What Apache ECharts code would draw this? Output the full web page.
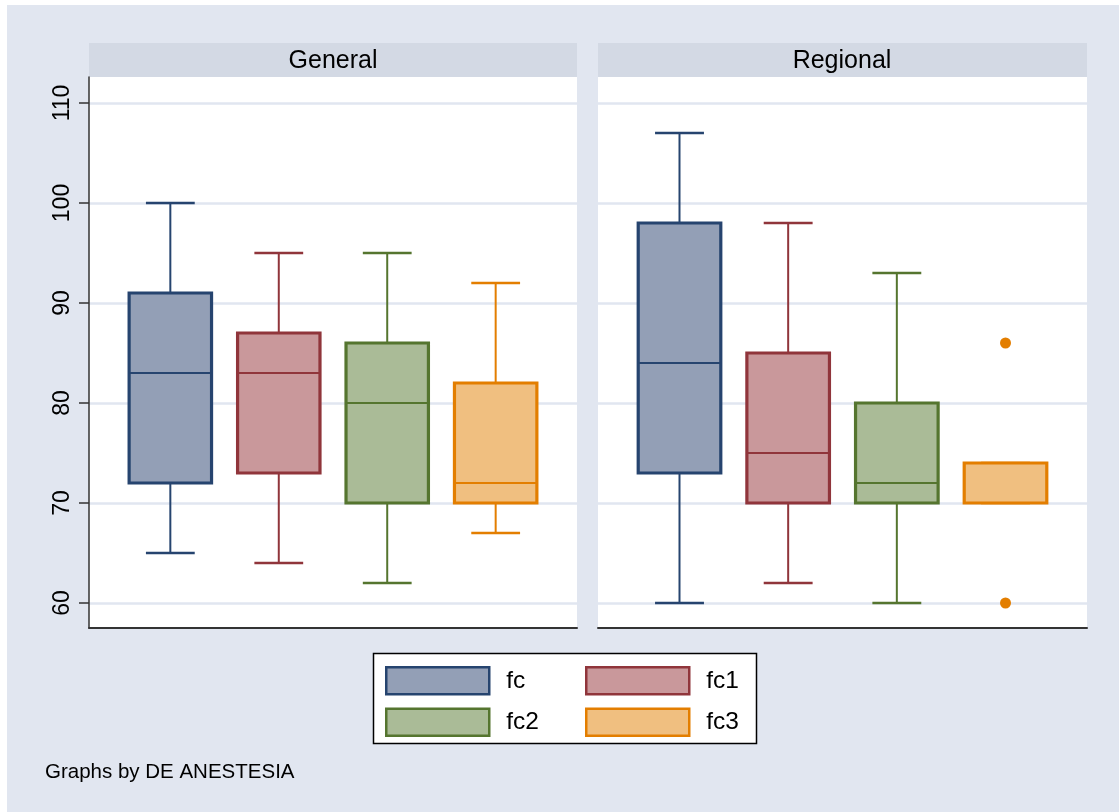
<!DOCTYPE html>
<html>
<head>
<meta charset="utf-8">
<title>fc by DE ANESTESIA</title>
<script src="https://cdn.jsdelivr.net/npm/echarts@6/dist/echarts.min.js"></script>
<style>
  html, body { margin: 0; padding: 0; background: #fff; }
  #chart { width: 1119px; height: 812px; }
</style>
</head>
<body>
<div id="chart"></div>
<script>
// panels and variables
const panels = ['General', 'Regional']
const varNames = ['fc', 'fc1', 'fc2', 'fc3']
const yTicks = [60, 70, 80, 90, 100, 110]

// [position, lower whisker, q1, median, q3, upper whisker]
const generalBoxes = [
  [1, 65, 72, 83, 91, 100],
  [2, 64, 73, 83, 87, 95],
  [3, 62, 70, 80, 86, 95],
  [4, 67, 70, 72, 82, 92]
]
const regionalBoxes = [
  [1, 60, 73, 84, 98, 107],
  [2, 62, 70, 75, 85, 98],
  [3, 60, 70, 72, 80, 93],
  [4, 70, 70, 70, 74, 74]
]
// outside values (fc3, Regional)
const regionalOutliers = [[4, 86], [4, 60]]

const strokeColors = ['#26446f', '#90353b', '#55752f', '#e37e00']
const fillColors = ['#939fb6', '#c9989b', '#aabb97', '#f0bf80']

const FONT = 'Arial, "Liberation Sans", sans-serif'
const BG = '#e1e6f0'

function boxRenderer (stroke, fill) {
  return function (params, api) {
    const x = api.value(0)
    const lo = api.coord([x, api.value(1)])
    const q1 = api.coord([x, api.value(2)])
    const med = api.coord([x, api.value(3)])
    const q3 = api.coord([x, api.value(4)])
    const hi = api.coord([x, api.value(5)])
    const unit = api.size([1, 0])[0]
    const bw = unit * 0.76
    const cw = unit * 0.45
    const cx = lo[0]
    const line = (x1, y1, x2, y2, w) => ({
      type: 'line',
      shape: { x1, y1, x2, y2 },
      style: { stroke, lineWidth: w }
    })
    return {
      type: 'group',
      children: [
        line(cx, hi[1], cx, q3[1], 2),
        line(cx, q1[1], cx, lo[1], 2),
        line(cx - cw / 2, hi[1], cx + cw / 2, hi[1], 2.5),
        line(cx - cw / 2, lo[1], cx + cw / 2, lo[1], 2.5),
        {
          type: 'rect',
          shape: { x: cx - bw / 2, y: q3[1], width: bw, height: q1[1] - q3[1] },
          style: { fill, stroke, lineWidth: 3.2 }
        },
        line(cx - bw / 2, med[1], cx + bw / 2, med[1], 2.2)
      ]
    }
  }
}

const series = []
;[generalBoxes, regionalBoxes].forEach((rows, g) => {
  varNames.forEach((name, i) => {
    series.push({
      name,
      type: 'custom',
      xAxisIndex: g,
      yAxisIndex: g,
      itemStyle: { color: fillColors[i], borderColor: strokeColors[i] },
      renderItem: boxRenderer(strokeColors[i], fillColors[i]),
      data: [rows[i]],
      encode: { x: 0, y: [1, 2, 3, 4, 5] },
      z: 3
    })
  })
})
series.push({
  name: 'fc3',
  type: 'scatter',
  xAxisIndex: 1,
  yAxisIndex: 1,
  symbolSize: 11,
  itemStyle: { color: strokeColors[3], opacity: 1 },
  data: regionalOutliers,
  z: 4
})

const gridPos = [
  { left: 89, top: 77, width: 488, height: 551 },
  { left: 598, top: 77, width: 489, height: 551 }
]

const legendItem = (i) => ({
  name: varNames[i],
  icon: 'rect',
  itemStyle: { color: fillColors[i], borderColor: strokeColors[i], borderWidth: 2.5 }
})

const legendBase = {
  orient: 'vertical',
  top: 666,
  padding: 0,
  itemWidth: 103,
  itemHeight: 27,
  itemGap: 12,
  selectedMode: false,
  textStyle: { fontFamily: FONT, fontSize: 24.5, color: '#000', padding: [0, 0, 0, 12] }
}

const option = {
  backgroundColor: '#fff',
  animation: false,
  title: {
    text: 'Graphs by DE ANESTESIA',
    left: 45,
    top: 762,
    padding: 0,
    textStyle: { fontFamily: FONT, fontSize: 20.5, fontWeight: 'normal', color: '#000' }
  },
  legend: [
    Object.assign({ left: 385, data: [legendItem(0), legendItem(2)] }, legendBase),
    Object.assign({ left: 585, data: [legendItem(1), legendItem(3)] }, legendBase)
  ],
  graphic: [
    { type: 'rect', z: -100, shape: { x: 7, y: 5, width: 1112, height: 807 }, style: { fill: BG } },
    { type: 'rect', z: -90, shape: { x: 89, y: 43, width: 488, height: 34 }, style: { fill: '#d3d9e4' } },
    { type: 'rect', z: -90, shape: { x: 598, y: 43, width: 489, height: 34 }, style: { fill: '#d3d9e4' } },
    {
      type: 'text', x: 333, y: 61, z: 10,
      style: { text: panels[0], font: '25px ' + FONT, fill: '#000', textAlign: 'center', textVerticalAlign: 'middle' }
    },
    {
      type: 'text', x: 842, y: 61, z: 10,
      style: { text: panels[1], font: '25px ' + FONT, fill: '#000', textAlign: 'center', textVerticalAlign: 'middle' }
    },
    {
      type: 'rect', z: -50,
      shape: { x: 373.5, y: 653.5, width: 383, height: 90 },
      style: { fill: '#fff', stroke: '#000', lineWidth: 1.5 }
    }
  ],
  grid: gridPos.map(p => Object.assign({ show: true, backgroundColor: '#fff', borderWidth: 0 }, p)),
  xAxis: [0, 1].map(g => ({
    type: 'value',
    gridIndex: g,
    min: 0.25,
    max: 4.75,
    axisLine: { show: true, onZero: false, lineStyle: { color: '#333', width: 2 } },
    axisTick: { show: false },
    axisLabel: { show: false },
    splitLine: { show: false }
  })),
  yAxis: [0, 1].map(g => ({
    type: 'value',
    gridIndex: g,
    min: 57.5,
    max: 112.6,
    axisLine: { show: g === 0, lineStyle: { color: '#333', width: 1.5 } },
    axisTick: { show: g === 0, length: 10, customValues: yTicks, lineStyle: { color: '#333', width: 1.5 } },
    axisLabel: {
      show: g === 0,
      customValues: yTicks,
      rotate: 90,
      margin: 15,
      fontFamily: FONT,
      fontSize: 23,
      color: '#000'
    },
    splitLine: { show: true, lineStyle: { color: BG, width: 2.5 } }
  })),
  series
}

const chart = echarts.init(document.getElementById('chart'))
chart.setOption(option)
</script>
</body>
</html>
